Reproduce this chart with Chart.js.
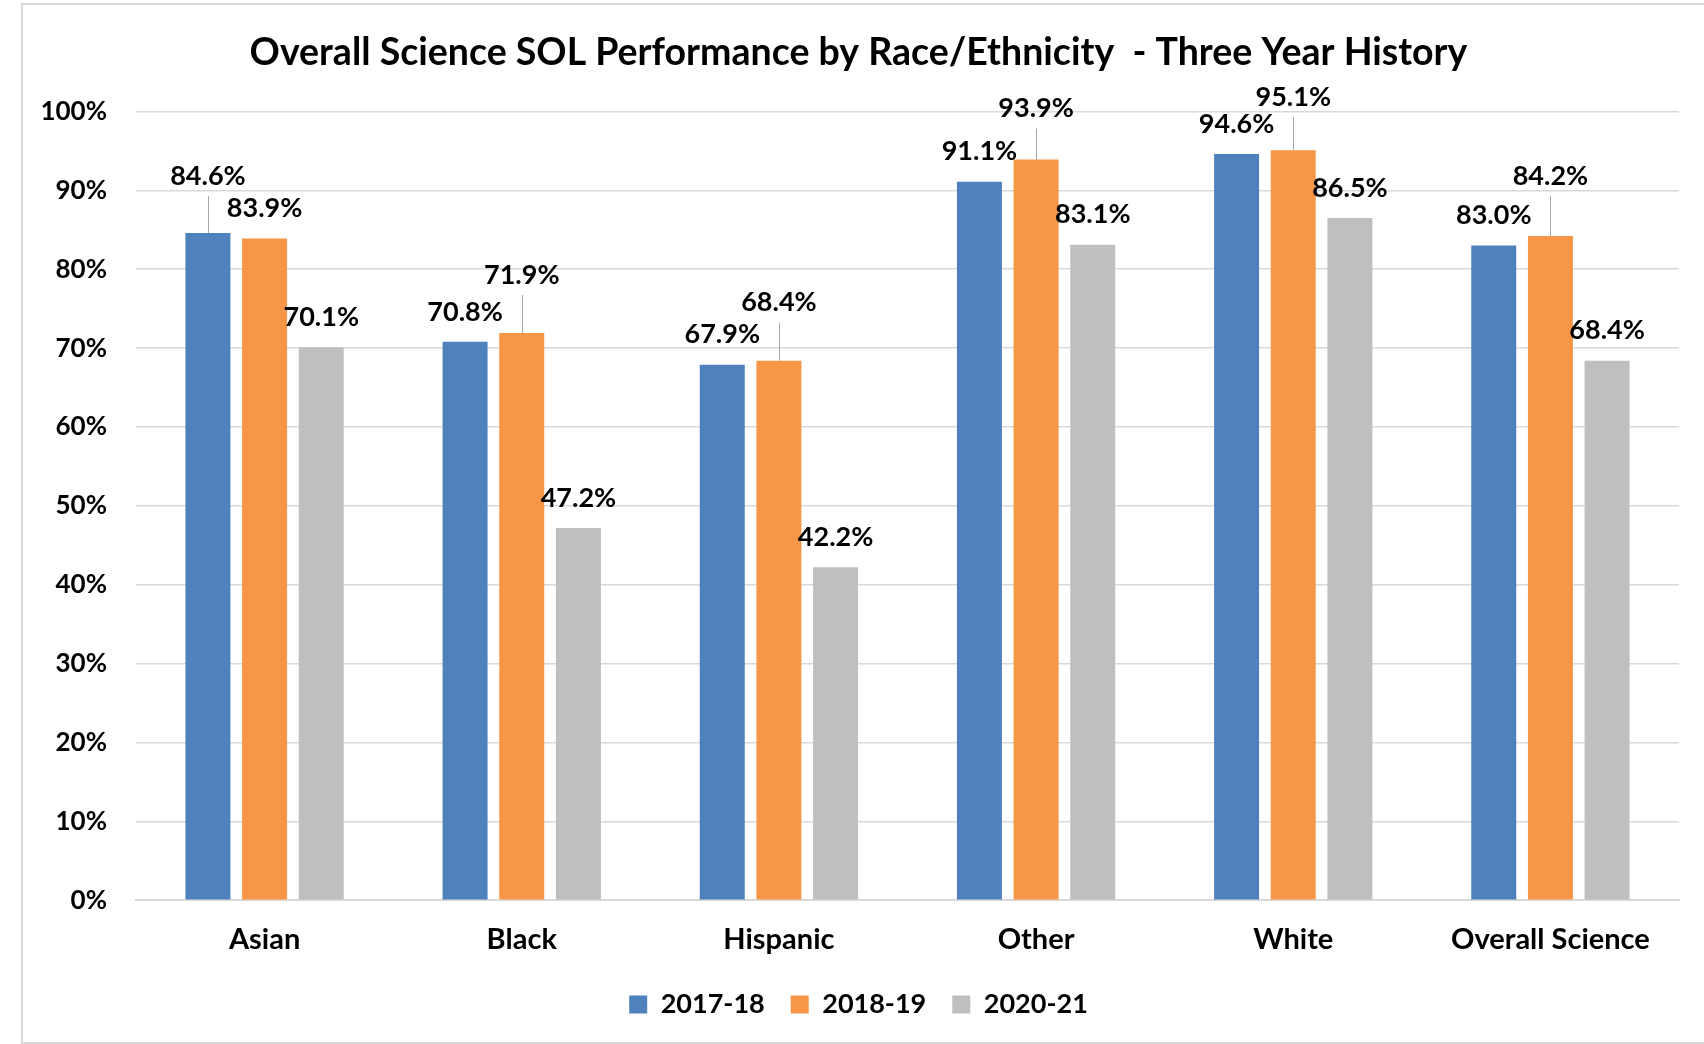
<!DOCTYPE html>
<html>
<head>
<meta charset="utf-8">
<script src="https://cdn.jsdelivr.net/npm/chart.js@4.4.1/dist/chart.umd.min.js"></script>
<style>
  html, body { margin: 0; padding: 0; background: #fff; }
  #frame { position: absolute; left: 21px; top: 3px; width: 1700px; height: 1037px; border: 2px solid #d9d9d9; border-right: none; }
  #wrap { position: absolute; left: 0; top: 0; width: 1704px; height: 1044px; }
</style>
</head>
<body>
<div id="frame"></div>
<div id="wrap"><canvas id="chart"></canvas></div>
<script>
// Overall Science SOL performance, three school years
const categories = ['Asian', 'Black', 'Hispanic', 'Other', 'White', 'Overall Science'];
const seriesNames = ['2017-18', '2018-19', '2020-21'];
const values2017 = [84.6, 70.8, 67.9, 91.1, 94.6, 83.0];
const values2018 = [83.9, 71.9, 68.4, 93.9, 95.1, 84.2];
const values2020 = [70.1, 47.2, 42.2, 83.1, 86.5, 68.4];
const yTicks = [0, 10, 20, 30, 40, 50, 60, 70, 80, 90, 100];

const seriesColors = ['#4f81bd', '#f79646', '#bfbfbf'];
// labels that Excel pushed up with a leader line: [series, category, lift in px]
const leaderLabels = [[0, 0, 57], [1, 1, 58], [1, 2, 58], [1, 3, 51], [1, 4, 53], [1, 5, 60]];

Chart.defaults.font.family = 'Lato';
Chart.defaults.font.weight = 'bold';
Chart.defaults.color = '#000';

const valueLabels = {
    id: 'valueLabels',
    afterDatasetsDraw(chart) {
        const ctx = chart.ctx;
        ctx.save();
        ctx.font = 'bold 27px Lato';
        ctx.fillStyle = '#000';
        ctx.textAlign = 'center';
        ctx.textBaseline = 'middle';
        chart.data.datasets.forEach((ds, di) => {
            chart.getDatasetMeta(di).data.forEach((bar, i) => {
                const lifted = leaderLabels.find(p => p[0] === di && p[1] === i);
                const y = bar.y - (lifted ? lifted[2] : 30);
                if (lifted) {
                    ctx.strokeStyle = '#a6a6a6';
                    ctx.lineWidth = 1;
                    ctx.beginPath();
                    ctx.moveTo(Math.round(bar.x) + 0.5, bar.y);
                    ctx.lineTo(Math.round(bar.x) + 0.5, y + 20);
                    ctx.stroke();
                }
                ctx.fillText(ds.data[i].toFixed(1) + '%', bar.x, y);
            });
        });
        ctx.restore();
    }
};

const allValues = [values2017, values2018, values2020];

new Chart(document.getElementById('chart'), {
    type: 'bar',
    data: {
        labels: categories,
        datasets: seriesNames.map((name, i) => ({
            label: name,
            data: allValues[i],
            backgroundColor: seriesColors[i],
            categoryPercentage: 0.661,
            barPercentage: 0.794
        }))
    },
    options: {
        responsive: true,
        maintainAspectRatio: false,
        animation: false,
        layout: { padding: { left: 38, right: 25, top: 0, bottom: 16 } },
        plugins: {
            title: {
                display: true,
                text: 'Overall Science SOL Performance by Race/Ethnicity  - Three Year History',
                font: { size: 37.5, weight: 'bold' },
                color: '#000',
                padding: { top: 30, bottom: 36.5 }
            },
            legend: {
                position: 'bottom',
                maxHeight: 82,
                labels: {
                    boxWidth: 18,
                    boxHeight: 18,
                    padding: 26,
                    font: { size: 27, weight: 'bold' },
                    color: '#000'
                }
            },
            tooltip: { enabled: false }
        },
        scales: {
            x: {
                grid: { display: false },
                border: { color: '#d9d9d9', width: 2 },
                ticks: { padding: 14, font: { size: 29, weight: 'bold' }, color: '#000' },
                afterFit(scale) { scale.height -= 6; }
            },
            y: {
                min: 0,
                max: 100,
                afterBuildTicks(scale) { scale.ticks = yTicks.map(v => ({ value: v })); },
                grid: { color: '#d9d9d9', lineWidth: 1.5, drawTicks: false },
                border: { display: false },
                ticks: { padding: 29, font: { size: 26, weight: 'bold' }, color: '#000', callback: v => v + '%' },
                afterFit(scale) { scale.width = 98; }
            }
        }
    },
    plugins: [valueLabels]
});
</script>
</body>
</html>
